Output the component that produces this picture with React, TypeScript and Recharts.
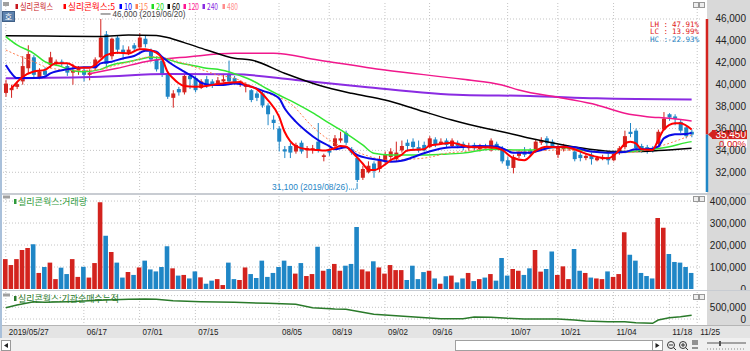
import React from "react";
import {
  ComposedChart,
  Bar,
  Line,
  XAxis,
  YAxis,
  CartesianGrid,
  ReferenceLine,
  ReferenceDot,
  Cell,
} from "recharts";

const RED = "#d3231e";
const BLUE = "#1f86c6";
const GRID = "#c4c4c4";
const FONT = "'Liberation Sans', Arial, sans-serif";
const KFONT = "'Noto Sans CJK KR', sans-serif";

// trading days shown on the x axis (last one is an empty slot)
const dates = [
  "05/27", "05/28", "05/29", "05/30", "05/31",
  "06/03", "06/04", "06/05", "06/07", "06/10", "06/11", "06/12", "06/13", "06/14",
  "06/17", "06/18", "06/19", "06/20", "06/21", "06/24", "06/25", "06/26", "06/27", "06/28",
  "07/01", "07/02", "07/03", "07/04", "07/05", "07/08", "07/09", "07/10", "07/11", "07/12",
  "07/15", "07/16", "07/17", "07/18", "07/19", "07/22", "07/23", "07/24", "07/25", "07/26",
  "07/29", "07/30", "07/31", "08/01", "08/02",
  "08/05", "08/06", "08/07", "08/08", "08/09", "08/12", "08/13", "08/14", "08/16",
  "08/19", "08/20", "08/21", "08/22", "08/23", "08/26", "08/27", "08/28", "08/29", "08/30",
  "09/02", "09/03", "09/04", "09/05", "09/06", "09/09", "09/10", "09/11",
  "09/16", "09/17", "09/18", "09/19", "09/20", "09/23", "09/24", "09/25", "09/26", "09/27",
  "09/30", "10/01", "10/02", "10/04",
  "10/07", "10/08", "10/10", "10/11", "10/14", "10/15", "10/16", "10/17", "10/18",
  "10/21", "10/22", "10/23", "10/24", "10/25", "10/28", "10/29", "10/30", "10/31",
  "11/01", "11/04", "11/05", "11/06", "11/07", "11/08", "11/11", "11/12", "11/13", "11/14", "11/15",
  "11/18", "11/19", "11/20", "11/21", "11/22", "11/25",
];

const open = [
  39250, 39500, 39800, 40300, 41500, 42500, 40700, 41300, 41800, 41950,
  42100, 41700, 41100, 41300, 41300, 40900, 41500, 42500, 44600, 42600,
  44300, 43200, 42900, 43600, 43400, 44200, 43000, 42300, 42200, 41000,
  38800, 39600, 39300, 40800, 40600, 39700, 40500, 40300, 40100, 40300,
  40900, 40600, 40100, 39800, 39500, 39200, 39200, 38100, 36800, 36000,
  34100, 34400, 33900, 34700, 34000, 34100, 34800, 33400, 34000, 34400,
  34900, 35600, 34100, 33300, 31500, 32000, 32800, 32300, 33000, 33400,
  33200, 34000, 34700, 34800, 34300, 34500, 34300, 35000, 34600, 34900,
  34400, 34700, 34600, 34200, 34500, 34100, 34400, 34000, 34600, 34200,
  33100, 32400, 33500, 33900, 34000, 33900, 34700, 35100, 34800, 33600,
  34100, 34100, 33900, 33600, 33300, 33600, 33100, 33200, 33400, 33100,
  33800, 34300, 35700, 35800, 34400, 34300, 34200, 34600, 35900, 37300,
  37100, 36600, 36100, 35700,
];
const high = [
  40450, 40000, 40300, 42600, 43600, 42700, 41500, 41600, 43000, 42300,
  42300, 41900, 41900, 41700, 41500, 41400, 42500, 46000, 44900, 44300,
  44500, 43600, 43500, 43800, 44700, 44500, 43300, 42600, 42500, 41200,
  39500, 39800, 41000, 41000, 40800, 40500, 40800, 40500, 40700, 40900,
  42200, 40800, 40400, 40200, 39600, 39400, 39400, 38300, 37200, 36200,
  34400, 34700, 34700, 34900, 34400, 34500, 36500, 33700, 34200, 35400,
  35700, 35800, 34300, 33400, 32600, 33000, 33000, 33500, 33900, 34200,
  34800, 34900, 35000, 35100, 34900, 34800, 35300, 35200, 35100, 35100,
  35100, 34900, 34800, 34700, 34700, 34600, 34600, 35100, 34800, 34400,
  33400, 33600, 34000, 34300, 34200, 35000, 35200, 35300, 35000, 34500,
  34600, 34400, 34100, 33900, 33700, 33800, 33500, 33600, 33700, 33900,
  34400, 35800, 36500, 36000, 34600, 34500, 34400, 35900, 37500, 37400,
  37300, 36800, 36300, 35900,
];
const low = [
  38900, 38800, 39600, 40000, 41000, 40700, 40500, 40700, 41500, 41700,
  41700, 40800, 40000, 40900, 40300, 40400, 41300, 42400, 41600, 42300,
  42800, 42300, 42700, 43000, 43200, 43400, 42100, 41200, 40700, 38700,
  37900, 39000, 39100, 39600, 39300, 39600, 39700, 39700, 39900, 40200,
  40100, 40000, 39800, 39300, 38400, 38500, 37900, 36300, 35900, 33900,
  33300, 33300, 33700, 33700, 33300, 33700, 33800, 33000, 33500, 34200,
  34700, 34500, 33600, 31100, 31300, 31900, 31500, 32000, 32800, 33200,
  33000, 33800, 33900, 34000, 33800, 33900, 34200, 34300, 34500, 34300,
  34300, 34200, 34000, 34000, 34000, 33900, 34000, 33900, 34100, 32800,
  32300, 31900, 33300, 33400, 33500, 33800, 34500, 34400, 34200, 33300,
  33900, 34000, 33000, 33000, 33100, 32700, 33000, 33100, 32700, 33000,
  33600, 34100, 35200, 34000, 33800, 33700, 33800, 34400, 35800, 36700,
  36300, 35600, 35100, 35200,
];
const close = [
  40100, 39700, 40050, 41700, 42800, 40900, 41200, 40900, 42500, 42100,
  41900, 41100, 41300, 41500, 40900, 41100, 42300, 44300, 41900, 44200,
  43200, 42900, 43200, 43300, 44300, 43700, 42300, 41400, 41000, 38900,
  39200, 39300, 40800, 40500, 39500, 40300, 39900, 40000, 40400, 40500,
  40300, 40200, 40250, 40000, 38600, 38800, 38100, 37300, 36500, 34800,
  33900, 33800, 34500, 33900, 34200, 34200, 34000, 33550, 33800, 35100,
  35100, 34700, 33800, 31300, 32300, 32600, 32100, 33200, 33600, 33900,
  33800, 34400, 34400, 34300, 34000, 34000, 35100, 34500, 34800, 34500,
  34900, 34400, 34300, 34400, 34200, 34300, 34200, 34900, 34300, 33000,
  32600, 33400, 33800, 33600, 33700, 34800, 34950, 34650, 34400, 34300,
  34300, 34200, 33200, 33300, 33500, 33200, 33300, 33400, 33100, 33700,
  34200, 35300, 35500, 34200, 34000, 33900, 34000, 35700, 36900, 37000,
  36900, 35800, 35300, 35450,
];
const volume = [
  136000, 109000, 136000, 177000, 186000, 203000, 73000, 100000, 120000, 45000,
  97000, 68000, 136000, 55000, 101000, 52000, 118000, 395000, 242000, 168000,
  120000, 52000, 77000, 64000, 98000, 129000, 89000, 80000, 100000, 195000,
  94000, 61000, 64000, 48000, 80000, 53000, 24000, 38000, 45000, 18000,
  120000, 45000, 41000, 98000, 68000, 50000, 129000, 55000, 73000, 100000,
  129000, 105000, 70000, 118000, 59000, 68000, 192000, 83000, 91000, 114000,
  83000, 106000, 114000, 282000, 89000, 80000, 126000, 98000, 70000, 109000,
  86000, 86000, 41000, 106000, 45000, 77000, 83000, 48000, 24000, 58000,
  61000, 30000, 48000, 73000, 36000, 45000, 52000, 68000, 38000, 141000,
  61000, 91000, 83000, 64000, 94000, 177000, 79000, 91000, 171000, 64000,
  103000, 45000, 182000, 83000, 73000, 52000, 48000, 45000, 80000, 55000,
  68000, 258000, 156000, 129000, 73000, 59000, 48000, 323000, 279000, 159000,
  123000, 120000, 100000, 73000,
];

// moving averages: [day index, price]
const ma5Pts = [
  [1, 39650], [3, 40700], [5, 41200], [7, 41350], [9, 41950], [11, 41950], [13, 41550],
  [15, 41550], [17, 42260], [18, 42700], [20, 42920], [22, 42850], [24, 43230], [25, 43230],
  [27, 42920], [28, 42410], [29, 41190], [30, 40590], [31, 40130], [32, 39880], [34, 39820],
  [36, 39880], [38, 40070], [40, 40180], [42, 40250], [43, 39970], [45, 39600], [47, 38600],
  [49, 37100], [50, 35700], [51, 34850], [52, 34400], [54, 34100], [56, 34040], [57, 33980],
  [59, 34200], [60, 34400], [61, 34350], [62, 33900], [64, 32800], [65, 32250], [66, 32200],
  [68, 32700], [69, 33100], [71, 33600], [72, 34000], [75, 34100], [76, 34450], [78, 34580],
  [80, 34700], [82, 34450], [84, 34280], [87, 34280], [89, 34040], [91, 33300], [93, 33100],
  [95, 33950], [97, 34340], [99, 34280], [100, 34340], [102, 34100], [104, 33700], [106, 33400],
  [108, 33280], [110, 34000], [111, 34600], [112, 34800], [113, 34650], [114, 34100], [116, 34040],
  [117, 34950], [118, 35900], [120, 36480], [121, 36480], [123, 35900],
];
const ma10Pts = [
  [0, 41800], [1, 41050], [2, 40600], [5, 40600], [7, 40730], [8, 41040], [11, 41400],
  [14, 41590], [16, 41600], [17, 41950], [19, 42100], [21, 42400], [23, 42620], [25, 43100],
  [26, 43110], [27, 43010], [28, 42560], [30, 41800], [32, 41190], [34, 40590], [35, 40180],
  [37, 39970], [39, 39970], [41, 40100], [44, 39820], [46, 39460], [49, 38760], [50, 37850],
  [52, 36630], [54, 35710], [56, 34950], [58, 34400], [59, 34100], [61, 34280], [63, 33580],
  [65, 33280], [67, 33120], [69, 32970], [71, 33060], [73, 33370], [75, 33740], [77, 34040],
  [80, 34280], [82, 34300], [85, 34400], [88, 34350], [89, 34200], [91, 33790], [94, 33790],
  [96, 34040], [98, 34280], [100, 34340], [102, 34280], [105, 33890], [108, 33790], [111, 33850],
  [113, 34100], [115, 34100], [117, 34340], [118, 35100], [120, 35470], [122, 35500], [123, 35600],
];
const ma15Pts = [
  [0, 43170], [2, 42710], [5, 42100], [7, 41650], [11, 41340], [14, 41300], [17, 41400],
  [20, 41800], [23, 42190], [26, 42560], [28, 42500], [31, 42100], [35, 41400], [38, 40890],
  [41, 40590], [44, 39900], [47, 39210], [51, 38300], [55, 36170], [58, 34950], [62, 34040],
  [65, 33490], [68, 33120], [72, 33180], [76, 33370], [79, 33740], [82, 33890], [87, 34190],
  [93, 33890], [99, 34040], [105, 33890], [111, 33790], [115, 34040], [117, 34340], [119, 34650],
  [123, 35410],
];
const ma20Pts = [
  [0, 44390], [2, 43630], [5, 42870], [7, 42100], [10, 41650], [12, 41280], [14, 41190],
  [17, 41400], [19, 41800], [22, 42100], [24, 42320], [26, 42500], [29, 42320], [31, 42010],
  [34, 41710], [36, 41500], [38, 41400], [41, 41000], [44, 40430], [47, 39580], [49, 39060],
  [52, 38300], [55, 37450], [58, 36480], [61, 35560], [64, 34500], [66, 33740], [69, 33580],
  [74, 33580], [78, 33640], [82, 33750], [87, 34100], [91, 34040], [94, 34040], [99, 34280],
  [105, 33890], [108, 33790], [111, 33850], [115, 34040], [119, 34340], [122, 34710], [123, 34800],
];
const ma60Pts = [
  [0, 44480], [10, 44420], [17, 44390], [22, 44540], [27, 44500], [29, 44300], [32, 43840],
  [36, 43170], [41, 42410], [44, 42260], [50, 41040], [56, 39970], [62, 39210], [68, 38600],
  [74, 37690], [80, 36780], [86, 36020], [89, 35710], [94, 35100], [100, 34500], [106, 34040],
  [109, 33890], [112, 33890], [117, 33980], [123, 34190],
];
const ma120Pts = [
  [15, 41000], [20, 41500], [25, 42100], [33, 42560], [41, 42870], [48, 42870], [56, 42260],
  [68, 41340], [82, 40490], [89, 39970], [92, 39520], [100, 38760], [106, 38150], [111, 37390],
  [115, 37080], [119, 36930], [123, 36680],
];
const ma240Pts = [
  [0, 40590], [17, 40730], [29, 40980], [41, 40950], [52, 40430], [64, 39820], [82, 39060],
  [94, 38970], [106, 38760], [123, 38650],
];
// institutional net buying, cumulative
const instPts = [
  [0, 483000], [2, 598000], [5, 740000], [7, 712000], [11, 740000], [14, 770000], [18, 812000],
  [22, 840000], [25, 855000], [27, 840000], [30, 783000], [35, 740000], [41, 712000], [47, 670000],
  [52, 627000], [55, 483000], [59, 427000], [61, 420000], [64, 286000], [66, 205000], [70, 141000],
  [74, 71000], [78, 13000], [82, 15000], [84, 85000], [87, 80000], [90, 28000], [93, 0], [99, 0],
  [102, -43000], [104, -85000], [108, -114000], [111, -120000], [113, -157000], [116, -185000],
  [117, -43000], [119, 57000], [121, 100000], [123, 160000],
];

const tickIdx = [0, 14, 24, 34, 49, 58, 68, 76, 90, 99, 109, 119, 124];
const priceTicks = [32000, 34000, 36000, 38000, 40000, 42000, 44000, 46000];
const volTicks = [0, 100000, 200000, 300000, 400000];
const instTicks = [0, 500000];

const legendItems = [
  { label: "실리콘웍스", color: "#c8161d", x: 20, len: 33 },
  { label: "실리콘웍스:5", color: "#ff0000", x: 68, len: 47 },
  { label: "10", color: "#0000ff", x: 124, len: 8 },
  { label: "15", color: "#ff7f50", x: 140, len: 8 },
  { label: "20", color: "#22dd22", x: 156, len: 8 },
  { label: "60", color: "#000000", x: 172, len: 8 },
  { label: "120", color: "#ff1493", x: 188, len: 11 },
  { label: "240", color: "#8a2be2", x: 207, len: 11 },
  { label: "480", color: "#ff8c8c", x: 227, len: 11 },
];
const statLines = [
  { name: "LH :", value: "47.91%", color: "#e02020", y: 26.5 },
  { name: "LC :", value: "13.99%", color: "#e02020", y: 34 },
  { name: "HC :", value: "-22.93%", color: "#1f86c6", y: 42 },
];

const toMap = (pts: number[][]) => {
  const m: Record<number, number> = {};
  pts.forEach(([i, v]) => {
    m[i] = v;
  });
  return m;
};
const m5 = toMap(ma5Pts);
const m10 = toMap(ma10Pts);
const m15 = toMap(ma15Pts);
const m20 = toMap(ma20Pts);
const m60 = toMap(ma60Pts);
const m120 = toMap(ma120Pts);
const m240 = toMap(ma240Pts);
const mInst = toMap(instPts);

const rows = dates.map((d, i) => {
  const has = i < close.length;
  return {
    i,
    d,
    range: has ? [low[i], high[i]] : null,
    o: has ? open[i] : null,
    h: has ? high[i] : null,
    l: has ? low[i] : null,
    c: has ? close[i] : null,
    vol: has ? volume[i] : null,
    ma5: m5[i] ?? null,
    ma10: m10[i] ?? null,
    ma15: m15[i] ?? null,
    ma20: m20[i] ?? null,
    ma60: m60[i] ?? null,
    ma120: m120[i] ?? null,
    ma240: m240[i] ?? null,
    inst: mInst[i] ?? null,
  };
});

const Candle = (props: any) => {
  const { x, y, width, height, payload } = props;
  if (!payload || payload.o == null) return <g />;
  const { o, h, l, c } = payload;
  const top = Math.min(y, y + height);
  const span = Math.abs(height);
  const k = h > l ? span / (h - l) : 0;
  const yO = top + (h - o) * k;
  const yC = top + (h - c) * k;
  const color = c >= o ? RED : BLUE;
  const cx = x + width / 2;
  return (
    <g>
      <line x1={cx} x2={cx} y1={top} y2={top + span} stroke={color} strokeWidth={1} />
      <rect
        x={x}
        y={Math.min(yO, yC)}
        width={width}
        height={Math.max(1, Math.abs(yC - yO))}
        fill={color}
      />
    </g>
  );
};

const NumTick = (props: any) => {
  const { x, y, payload } = props;
  return (
    <text x={x + 46} y={y + 3.5} textAnchor="end" fontSize={10} fontFamily={FONT} fill="#222">
      {Number(payload.value).toLocaleString("en-US")}
    </text>
  );
};

const DateTick = (props: any) => {
  const { x, y, payload } = props;
  const i = payload.value;
  const label = i === 0 ? "2019/" + dates[0] : dates[i];
  return (
    <text
      x={x + 3}
      y={y + 10}
      fontSize={9}
      fontFamily={FONT}
      fill="#222"
      textLength={label.length * 4}
      lengthAdjust="spacingAndGlyphs"
    >
      {label}
    </text>
  );
};

const xProps = {
  dataKey: "i",
  type: "number" as const,
  domain: [-0.5, 124.5],
  ticks: tickIdx,
};
const margin = { top: 3, right: 0, bottom: 1, left: 3 };
const yCommon = {
  orientation: "right" as const,
  width: 50,
  allowDataOverflow: true,
  axisLine: false,
  tickLine: false,
  tickSize: 0,
  tickMargin: 0,
  interval: 0 as const,
  tick: <NumTick />,
};

const MainChart = () => (
  <ComposedChart width={750} height={193} data={rows} margin={margin}>
    <CartesianGrid
      stroke={GRID}
      strokeDasharray="1 2"
      horizontalValues={priceTicks}
      verticalValues={tickIdx}
    />
    <XAxis {...xProps} hide />
    <YAxis {...yCommon} domain={[30200, 47460]} ticks={priceTicks} />
    <Bar dataKey="range" barSize={4} shape={<Candle />} isAnimationActive={false} />
    <Line dataKey="ma240" stroke="#8a2be2" strokeWidth={2} dot={false} connectNulls type="monotone" isAnimationActive={false} />
    <Line dataKey="ma120" stroke="#f0188c" strokeWidth={1.5} dot={false} connectNulls type="monotone" isAnimationActive={false} />
    <Line dataKey="ma60" stroke="#000000" strokeWidth={1.5} dot={false} connectNulls type="monotone" isAnimationActive={false} />
    <Line dataKey="ma20" stroke="#33e633" strokeWidth={1.5} dot={false} connectNulls type="monotone" isAnimationActive={false} />
    <Line dataKey="ma15" stroke="#ff7f50" strokeWidth={1} strokeDasharray="2 2" dot={false} connectNulls type="monotone" isAnimationActive={false} />
    <Line dataKey="ma10" stroke="#0a0ae6" strokeWidth={2} dot={false} connectNulls type="monotone" isAnimationActive={false} />
    <Line dataKey="ma5" stroke="#ff0000" strokeWidth={2} dot={false} connectNulls type="monotone" isAnimationActive={false} />
    <ReferenceLine
      segment={[{ x: 125.75, y: 46000 }, { x: 125.75, y: 35450 }]}
      stroke={RED}
      strokeWidth={2.5}
      ifOverflow="visible"
    />
    <ReferenceLine
      segment={[{ x: 125.75, y: 35450 }, { x: 125.75, y: 30200 }]}
      stroke={BLUE}
      strokeWidth={2.5}
      ifOverflow="visible"
    />
    <ReferenceDot
      x={125.75}
      y={35450}
      r={0}
      ifOverflow="visible"
      shape={(p: any) => (
        <g>
          <path d={`M${p.cx + 1},${p.cy} L${p.cx + 5},${p.cy - 3.5} L${p.cx + 5},${p.cy + 3.5} Z`} fill={RED} />
          <rect x={p.cx + 5} y={p.cy - 4.5} width={35} height={9} fill={RED} />
          <text x={p.cx + 39} y={p.cy + 3.5} textAnchor="end" fontSize={10} fontFamily={FONT} fill="#fff">
            35,450
          </text>
          <rect x={p.cx + 17} y={p.cy + 5} width={23} height={8} fill="#fff" />
          <text x={p.cx + 39} y={p.cy + 12} textAnchor="end" fontSize={9.5} fontFamily={FONT} fill="#e02020">
            0.00%
          </text>
        </g>
      )}
    />
    <ReferenceDot
      x={17}
      y={46000}
      r={0}
      ifOverflow="visible"
      shape={(p: any) => (
        <g>
          <line x1={p.cx} x2={p.cx + 10} y1={p.cy - 5} y2={p.cy - 5} stroke="#555" strokeWidth={1} />
          <text x={p.cx + 12} y={p.cy - 2} fontSize={9} fontFamily={FONT} fill="#444" textLength={73} lengthAdjust="spacingAndGlyphs">
            46,000 (2019/06/20)
          </text>
        </g>
      )}
    />
    <ReferenceDot
      x={63}
      y={31100}
      r={0}
      ifOverflow="visible"
      shape={(p: any) => (
        <g>
          <text x={p.cx - 85} y={p.cy + 8} fontSize={9} fontFamily={FONT} fill={BLUE} textLength={76} lengthAdjust="spacingAndGlyphs">
            31,100 (2019/08/26)
          </text>
          <line x1={p.cx - 8} x2={p.cx} y1={p.cy + 7} y2={p.cy + 7} stroke={BLUE} strokeDasharray="1 1" />
          <line x1={p.cx} x2={p.cx} y1={p.cy + 1} y2={p.cy + 7} stroke={BLUE} />
        </g>
      )}
    />
  </ComposedChart>
);

const VolumeChart = () => (
  <ComposedChart width={750} height={97} data={rows} margin={margin}>
    <CartesianGrid
      stroke={GRID}
      strokeDasharray="1 2"
      horizontalValues={[100000, 200000, 300000, 400000]}
      verticalValues={tickIdx}
    />
    <XAxis {...xProps} hide />
    <YAxis {...yCommon} domain={[0, 423000]} ticks={volTicks} />
    <Bar dataKey="vol" barSize={4.6} isAnimationActive={false}>
      {rows.map((r, k) => (
        <Cell key={k} fill={r.c != null && r.o != null && r.c >= r.o ? RED : BLUE} />
      ))}
    </Bar>
  </ComposedChart>
);

const InstChart = () => (
  <ComposedChart width={750} height={48} data={rows} margin={{ top: 2, right: 0, bottom: 0, left: 3 }}>
    <CartesianGrid
      stroke={GRID}
      strokeDasharray="1 2"
      horizontalValues={[0, 500000, 1000000]}
      verticalValues={tickIdx}
    />
    <XAxis
      {...xProps}
      height={13}
      interval={0}
      axisLine={false}
      tickLine={false}
      tickSize={0}
      tickMargin={0}
      tick={<DateTick />}
    />
    <YAxis {...yCommon} domain={[-256000, 1154000]} ticks={instTicks} />
    <Line dataKey="inst" stroke="#2a7a2a" strokeWidth={1.5} dot={false} connectNulls type="linear" isAnimationActive={false} />
  </ComposedChart>
);

const PanelButtons = ({ y }: { y: number }) => (
  <g>
    <rect x={693.5} y={y + 0.5} width={5} height={5} fill="#eee" stroke="#999" />
    <rect x={699.5} y={y + 0.5} width={5} height={5} fill="#eee" stroke="#999" />
  </g>
);

const Overlay = () => (
  <svg width={750} height={351} style={{ position: "absolute", left: 0, top: 0, pointerEvents: "none" }}>
    <rect x={3} y={2} width={6} height={4} fill="#a0a0a0" />
    <rect x={2.5} y={11.5} width={12} height={10} fill="#5d82ad" stroke="#3f5f86" />
    <text x={8.5} y={19.5} fontSize={8} fill="#fff" textAnchor="middle" fontFamily={KFONT}>
      호
    </text>
    {legendItems.map((it) => (
      <g key={it.label}>
        <rect x={it.x - 4.5} y={4} width={2.5} height={5} fill={it.color} />
        <text
          x={it.x}
          y={10}
          fontSize={9}
          fontFamily={KFONT}
          fill={it.color}
          textLength={it.len}
          lengthAdjust="spacingAndGlyphs"
        >
          {it.label}
        </text>
      </g>
    ))}
    {statLines.map((s) => (
      <g key={s.name}>
        <text x={650} y={s.y} fontSize={7.5} fontFamily="'DejaVu Sans Mono', monospace" fill={s.color}>
          {s.name}
        </text>
        <text x={699} y={s.y} fontSize={7.5} fontFamily="'DejaVu Sans Mono', monospace" fill={s.color} textAnchor="end">
          {s.value}
        </text>
      </g>
    ))}
    <PanelButtons y={2} />
    <PanelButtons y={196} />
    <PanelButtons y={294} />

    <rect x={3} y={195.5} width={7} height={3} fill="#a0a0a0" />
    <rect x={14} y={199} width={2.5} height={5} fill="#2e9a3a" />
    <text x={18} y={205} fontSize={9} fontFamily={KFONT} fill="#2e9a3a" textLength={69} lengthAdjust="spacingAndGlyphs">
      실리콘웍스:거래량
    </text>

    <rect x={3} y={293.5} width={7} height={3} fill="#a0a0a0" />
    <rect x={14} y={296} width={2.5} height={5} fill="#2a7a2a" />
    <text x={18} y={302} fontSize={9} fontFamily={KFONT} fill="#2a7a2a" textLength={101} lengthAdjust="spacingAndGlyphs">
      실리콘웍스:기관순매수누적
    </text>

    {/* bottom scroll bar row */}
    <rect x={1.5} y={340.5} width={9} height={10} fill="#fff" stroke="#999" />
    <path d="M4,345.5 L8,343 L8,348 Z" fill="#222" />
    <rect x={455.5} y={340.5} width={197} height={10} fill="#fff" stroke="#a0a0a0" />
    <rect x={652.5} y={340.5} width={10} height={10} fill="#fff" stroke="#999" />
    <path d="M655.5,343 L659.5,345.5 L655.5,348 Z" fill="#222" />
    <circle cx={671} cy={345} r={3.5} fill="none" stroke="#333" />
    <line x1={669} x2={673} y1={345} y2={345} stroke="#333" />
    <line x1={673.5} x2={676} y1={347.5} y2={350} stroke="#333" />
    <circle cx={683} cy={345} r={3.5} fill="none" stroke="#333" />
    <line x1={681} x2={685} y1={345} y2={345} stroke="#333" />
    <line x1={683} x2={683} y1={343} y2={347} stroke="#333" />
    <line x1={685.5} x2={688} y1={347.5} y2={350} stroke="#333" />
    <g stroke="#333">
      <line x1={693} x2={693} y1={340} y2={345} />
      <line x1={695} x2={695} y1={340} y2={345} />
      <line x1={697} x2={697} y1={340} y2={345} />
      <line x1={692} x2={698} y1={348} y2={348} />
    </g>
    <line x1={707} x2={746} y1={343} y2={343} stroke="#555" />
    <rect x={719} y={341} width={2} height={5} fill="#555" />
    <line x1={707} x2={746} y1={349} y2={349} stroke="#888" strokeDasharray="1 2" />
  </svg>
);

export default function App() {
  return (
    <div
      style={{
        position: "absolute",
        left: 0,
        top: 0,
        width: 750,
        height: 351,
        overflow: "hidden",
        background: "#f0f0f0",
      }}
    >
      <div style={{ position: "absolute", left: 0, top: 0, width: 707, height: 325, background: "#fff" }} />
      <div style={{ position: "absolute", left: 707, top: 0, width: 43, height: 325, background: "#d9d9d9" }} />
      <div style={{ position: "absolute", left: 0, top: 325, width: 750, height: 13, background: "#e4e4e4", borderTop: "1px solid #b5b5b5", boxSizing: "border-box" }} />
      <div style={{ position: "absolute", left: 0, top: 193, width: 750, height: 2, background: "#c8ccd2" }} />
      <div style={{ position: "absolute", left: 0, top: 290, width: 750, height: 1, background: "#c8ccd2" }} />
      <div style={{ position: "absolute", left: 0, top: 0, width: 2, height: 338, background: "#a9c0da" }} />
      <div style={{ position: "absolute", left: 0, top: 0 }}>
        <MainChart />
      </div>
      <div style={{ position: "absolute", left: 0, top: 193 }}>
        <VolumeChart />
      </div>
      <div style={{ position: "absolute", left: 0, top: 290 }}>
        <InstChart />
      </div>
      <Overlay />
    </div>
  );
}
